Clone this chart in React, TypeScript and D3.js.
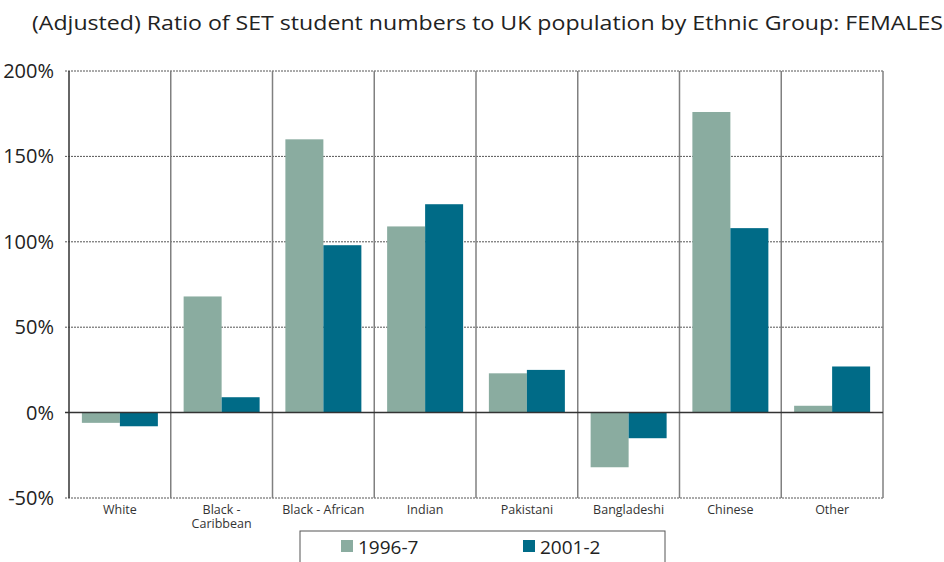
import React from "react";
import * as d3 from "d3";

const categories = ["White", "Black - Caribbean", "Black - African", "Indian", "Pakistani", "Bangladeshi", "Chinese", "Other"];
const catLines = [["White"], ["Black -", "Caribbean"], ["Black - African"], ["Indian"], ["Pakistani"], ["Bangladeshi"], ["Chinese"], ["Other"]];
const seriesNames = ["1996-7", "2001-2"];
const values1996 = [-6, 68, 160, 109, 23, -32, 176, 4];
const values2001 = [-8, 9, 98, 122, 25, -15, 108, 27];
const yTicks = [-50, 0, 50, 100, 150, 200];
const colors = ["#8aaca0", "#006b87"];

const W = 944, H = 562;
const M = { left: 69, right: 883, top: 71, bottom: 498 };
const font = "'Open Sans', 'Noto Sans', sans-serif";

export default function App() {
  const x = d3.scaleBand<string>().domain(categories).range([M.left, M.right]).paddingInner(0).paddingOuter(0);
  const y = d3.scaleLinear().domain([-50, 200]).range([M.bottom, M.top]);
  const x1 = d3.scaleBand<string>().domain(seriesNames).range([0, x.bandwidth()]).paddingOuter(0.339).paddingInner(0);
  const series = [values1996, values2001];
  return (
    <svg width={W} height={H} style={{ position: "absolute", left: 0, top: 0, background: "#fff" }} fontFamily={font}>
      <text x={32} y={30} fontSize={19.5} fill="#222" textLength={911} lengthAdjust="spacingAndGlyphs">(Adjusted) Ratio of SET student numbers to UK population by Ethnic Group: FEMALES</text>
      {yTicks.filter(t => t !== 0).map(t => (
        <line key={t} x1={M.left - 4} x2={M.right} y1={y(t)} y2={y(t)} stroke="#555" strokeWidth={1} strokeDasharray="2,1" />
      ))}
      {categories.slice(1).map(c => (
        <line key={c} x1={x(c)!} x2={x(c)!} y1={M.top} y2={M.bottom} stroke="#808080" strokeWidth={1.5} />
      ))}
      <line x1={M.right} x2={M.right} y1={M.top} y2={M.bottom} stroke="#808080" strokeWidth={1.5} />
      {series.map((vals, si) => categories.map((c, i) => {
        const v = vals[i];
        return <rect key={si + c} x={x(c)! + x1(seriesNames[si])!} width={x1.bandwidth()} y={y(Math.max(0, v))} height={Math.abs(y(v) - y(0))} fill={colors[si]} />;
      }))}
      <line x1={M.left - 4} x2={M.right} y1={y(0)} y2={y(0)} stroke="#333" strokeWidth={1.5} />
      <line x1={M.left} x2={M.left} y1={M.top} y2={M.bottom} stroke="#333" strokeWidth={1.5} />
      {yTicks.map(t => (
        <text key={t} x={54} y={y(t) + 7} fontSize={20} textAnchor="end" fill="#222">{t}%</text>
      ))}
      {categories.map((c, i) => (
        <text key={c} x={x(c)! + x.bandwidth() / 2} y={514} fontSize={12.5} textAnchor="middle" fill="#333">
          {catLines[i].map((l, j) => <tspan key={j} x={x(c)! + x.bandwidth() / 2} dy={j === 0 ? 0 : 14}>{l}</tspan>)}
        </text>
      ))}
      <rect x={300} y={531} width={365} height={40} fill="none" stroke="#555" strokeWidth={1} />
      {seriesNames.map((s, i) => (
        <g key={s} transform={`translate(${341 + i * 182},0)`}>
          <rect x={0} y={540} width={12} height={12} fill={colors[i]} />
          <text x={17} y={554} fontSize={19} fill="#222">{s}</text>
        </g>
      ))}
    </svg>
  );
}
